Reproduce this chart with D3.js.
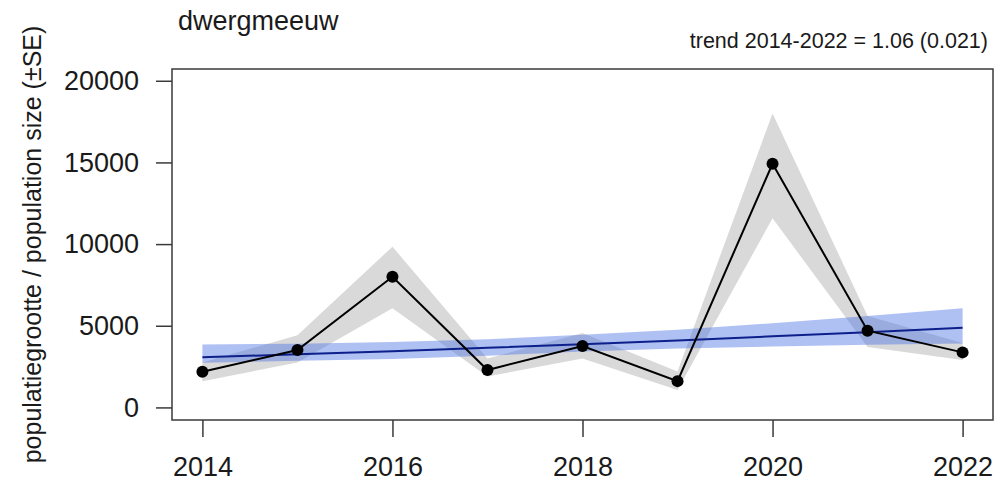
<!DOCTYPE html>
<html>
<head>
<meta charset="utf-8">
<script src="https://cdn.jsdelivr.net/npm/d3@7"></script>
<style>
  html, body { margin: 0; padding: 0; background: #fff; }
  svg { display: block; font-family: "Liberation Sans", Arial, sans-serif; }
</style>
</head>
<body>
<svg id="chart" width="998" height="490"></svg>
<script>
// Population index for dwergmeeuw with ±SE band and the fitted trend
const years = [2014, 2015, 2016, 2017, 2018, 2019, 2020, 2021, 2022];
const popIndex = [2190, 3510, 8000, 2290, 3760, 1610, 14920, 4700, 3370];
const popLower = [1600, 2750, 6070, 1900, 3000, 1060, 11580, 3700, 2900];
const popUpper = [2750, 4420, 9840, 3000, 4550, 2200, 18000, 5600, 3950];
const trendValue = [3070, 3250, 3440, 3650, 3870, 4100, 4350, 4610, 4880];
const trendLower = [2740, 2850, 2960, 3170, 3420, 3600, 3730, 3830, 3920];
const trendUpper = [3860, 3900, 4000, 4170, 4450, 4750, 5160, 5600, 6070];
const yTicks = [0, 5000, 10000, 15000, 20000];
const xTicks = [2014, 2016, 2018, 2020, 2022];
const titleText = "dwergmeeuw";
const trendText = "trend 2014-2022 = 1.06 (0.021)";
const yLabel = "populatiegrootte / population size (\u00b1SE)";

const svg = d3.select("#chart");
const box = { left: 172, right: 993, top: 69, bottom: 420 };

const x = d3.scaleLinear().domain([2013.68, 2022.32]).range([box.left, box.right]);
const y = d3.scaleLinear().domain([-770, 20720]).range([box.bottom, box.top]);

const rows = years.map((yr, i) => ({
  yr, v: popIndex[i], lo: popLower[i], hi: popUpper[i],
  t: trendValue[i], tlo: trendLower[i], thi: trendUpper[i]
}));

// Standard-error band around the yearly estimates
svg.append("path")
  .datum(rows)
  .attr("fill", "#d9d9d9")
  .attr("d", d3.area().x(d => x(d.yr)).y0(d => y(d.lo)).y1(d => y(d.hi)));

// Confidence band of the trend
svg.append("path")
  .datum(rows)
  .attr("fill", "rgba(72,112,228,0.44)")
  .attr("d", d3.area().x(d => x(d.yr)).y0(d => y(d.tlo)).y1(d => y(d.thi)));

// Trend line
svg.append("path")
  .datum(rows)
  .attr("fill", "none")
  .attr("stroke", "#0d1f8a")
  .attr("stroke-width", 2)
  .attr("d", d3.line().x(d => x(d.yr)).y(d => y(d.t)));

// Yearly estimates
svg.append("path")
  .datum(rows)
  .attr("fill", "none")
  .attr("stroke", "#000")
  .attr("stroke-width", 2)
  .attr("d", d3.line().x(d => x(d.yr)).y(d => y(d.v)));

svg.selectAll("circle.pt")
  .data(rows)
  .join("circle")
  .attr("class", "pt")
  .attr("cx", d => x(d.yr))
  .attr("cy", d => y(d.v))
  .attr("r", 6)
  .attr("fill", "#000");

// Plot frame
svg.append("rect")
  .attr("x", box.left).attr("y", box.top)
  .attr("width", box.right - box.left).attr("height", box.bottom - box.top)
  .attr("fill", "none").attr("stroke", "#3a3a3a").attr("stroke-width", 1.5);

// Axes
const yAxis = d3.axisLeft(y).tickValues(yTicks).tickSize(16).tickPadding(17).tickFormat(d3.format("d"));
const gy = svg.append("g").attr("transform", `translate(${box.left},0)`).call(yAxis);
gy.select(".domain").remove();

const xAxis = d3.axisBottom(x).tickValues(xTicks).tickSize(17).tickPadding(20).tickFormat(d3.format("d"));
const gx = svg.append("g").attr("transform", `translate(0,${box.bottom})`).call(xAxis);
gx.select(".domain").remove();

[gx, gy].forEach(g => {
  g.selectAll(".tick line").attr("stroke", "#3a3a3a").attr("stroke-width", 1.5);
  g.selectAll(".tick text").attr("fill", "#1a1a1a").style("font-size", "27px")
    .style("font-family", "'Liberation Sans', Arial, sans-serif");
});

// Titles
svg.append("text")
  .attr("x", 178).attr("y", 30)
  .attr("fill", "#1a1a1a")
  .style("font-size", "27px")
  .text(titleText);

svg.append("text")
  .attr("x", 988).attr("y", 48)
  .attr("text-anchor", "end")
  .attr("fill", "#1a1a1a")
  .style("font-size", "21.5px")
  .text(trendText);

svg.append("text")
  .attr("transform", `translate(41,${(box.top + box.bottom) / 2}) rotate(-90)`)
  .attr("text-anchor", "middle")
  .attr("fill", "#1a1a1a")
  .style("font-size", "25px")
  .text(yLabel);
</script>
</body>
</html>
